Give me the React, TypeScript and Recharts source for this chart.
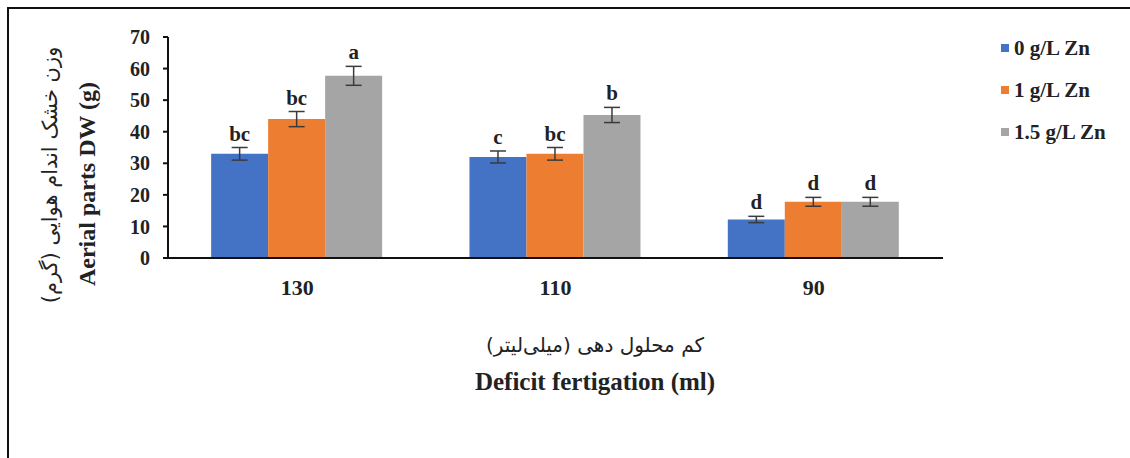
import { BarChart, Bar, XAxis, YAxis, Legend, ErrorBar, LabelList } from 'recharts'

const categories = ['130', '110', '90']
const zn0 = [33, 32, 12.2]
const zn1 = [44, 33, 17.8]
const zn15 = [57.7, 45.3, 17.8]
const zn0Err = [2, 1.9, 1]
const zn1Err = [2.4, 2, 1.4]
const zn15Err = [3, 2.4, 1.4]
const zn0Letters = ['bc', 'c', 'd']
const zn1Letters = ['bc', 'bc', 'd']
const zn15Letters = ['a', 'b', 'd']
const yTicks = [0, 10, 20, 30, 40, 50, 60, 70]

const seriesNames = ['0 g/L Zn', '1 g/L Zn', '1.5 g/L Zn']
const colors = ['#4472C4', '#ED7D31', '#A5A5A5']

const data = categories.map((c, i) => ({
  name: c,
  zn0: zn0[i],
  zn1: zn1[i],
  zn15: zn15[i],
  zn0Err: zn0Err[i],
  zn1Err: zn1Err[i],
  zn15Err: zn15Err[i],
}))

const serif = '"Liberation Serif", "Times New Roman", serif'
const persian = '"DejaVu Sans", "Noto Sans", sans-serif'

function letterLabel(letters: string[], errs: number[]) {
  return (props: any) => {
    const { x, y, width, height, index, value } = props
    const errPx = value ? (errs[index] * height) / value : 0
    return (
      <text
        x={x + width / 2}
        y={y - errPx - 7}
        textAnchor="middle"
        fontFamily={serif}
        fontWeight="bold"
        fontSize={21}
        fill="#222"
      >
        {letters[index]}
      </text>
    )
  }
}

function renderLegend() {
  return (
    <div style={{ fontFamily: serif, fontWeight: 'bold', fontSize: 21, color: '#222' }}>
      {seriesNames.map((n, i) => (
        <div key={n} style={{ display: 'flex', alignItems: 'center', height: 42 }}>
          <span style={{ width: 8, height: 8, background: colors[i], marginRight: 5, display: 'inline-block' }} />
          <span>{n}</span>
        </div>
      ))}
    </div>
  )
}

function YLabel() {
  return (
    <g>
      <text
        x={50}
        y={175}
        transform="rotate(-90, 50, 175)"
        textAnchor="middle"
        dominantBaseline="central"
        fontFamily={persian}
        fontSize={21}
        fill="#222"
      >
        وزن خشک اندام هوایی (گرم)
      </text>
      <text
        x={87}
        y={184}
        transform="rotate(-90, 87, 184)"
        textAnchor="middle"
        dominantBaseline="central"
        fontFamily={serif}
        fontWeight="bold"
        fontSize={24}
        fill="#222"
      >
        Aerial parts DW (g)
      </text>
    </g>
  )
}

function XLabel() {
  const cx = 595
  return (
    <g>
      <text
        x={cx}
        y={345}
        textAnchor="middle"
        dominantBaseline="central"
        fontFamily={persian}
        fontSize={20}
        fill="#222"
        direction="rtl"
      >
        کم محلول دهی (میلی‌لیتر)
      </text>
      <text
        x={cx}
        y={381}
        textAnchor="middle"
        dominantBaseline="central"
        fontFamily={serif}
        fontWeight="bold"
        fontSize={25}
        fill="#222"
      >
        Deficit fertigation (ml)
      </text>
    </g>
  )
}

export default function App() {
  return (
    <div style={{ position: 'absolute', left: 0, top: 0, width: 1130, height: 458, background: '#fff' }}>
      <div
        style={{
          position: 'absolute',
          left: 7,
          top: 7,
          width: 1130,
          height: 449,
          borderLeft: '2px solid #111',
          borderTop: '2px solid #111',
          borderBottom: '1px solid #ddd',
        }}
      />
      <BarChart
        width={1130}
        height={458}
        data={data}
        margin={{ top: 37, right: 57, left: 108, bottom: 160 }}
        barCategoryGap="16.7%"
        barGap={0}
        style={{ position: 'absolute', left: 0, top: 0 }}
      >
        <XAxis
          dataKey="name"
          height={40}
          axisLine={{ stroke: '#111', strokeWidth: 2 }}
          tickLine={false}
          tickSize={0}
          tickMargin={21}
          tick={{ fill: '#222', fontFamily: serif, fontWeight: 'bold', fontSize: 22 }}
          label={<XLabel />}
        />
        <YAxis
          width={60}
          domain={[0, 70]}
          ticks={yTicks}
          axisLine={{ stroke: '#111', strokeWidth: 2 }}
          tickLine={{ stroke: '#111', strokeWidth: 2 }}
          tickSize={5}
          tickMargin={13}
          tick={{ fill: '#222', fontFamily: serif, fontWeight: 'bold', fontSize: 20 }}
          label={<YLabel />}
        />
        <Legend
          layout="vertical"
          verticalAlign="top"
          align="right"
          content={renderLegend}
          wrapperStyle={{ left: 1001, top: 27, width: 130 }}
        />
        <Bar dataKey="zn0" name={seriesNames[0]} fill={colors[0]} isAnimationActive={false}>
          <ErrorBar dataKey="zn0Err" width={8} stroke="#3b3b3b" strokeWidth={1.5} />
          <LabelList dataKey="zn0" content={letterLabel(zn0Letters, zn0Err)} />
        </Bar>
        <Bar dataKey="zn1" name={seriesNames[1]} fill={colors[1]} isAnimationActive={false}>
          <ErrorBar dataKey="zn1Err" width={8} stroke="#3b3b3b" strokeWidth={1.5} />
          <LabelList dataKey="zn1" content={letterLabel(zn1Letters, zn1Err)} />
        </Bar>
        <Bar dataKey="zn15" name={seriesNames[2]} fill={colors[2]} isAnimationActive={false}>
          <ErrorBar dataKey="zn15Err" width={8} stroke="#3b3b3b" strokeWidth={1.5} />
          <LabelList dataKey="zn15" content={letterLabel(zn15Letters, zn15Err)} />
        </Bar>
      </BarChart>
    </div>
  )
}
